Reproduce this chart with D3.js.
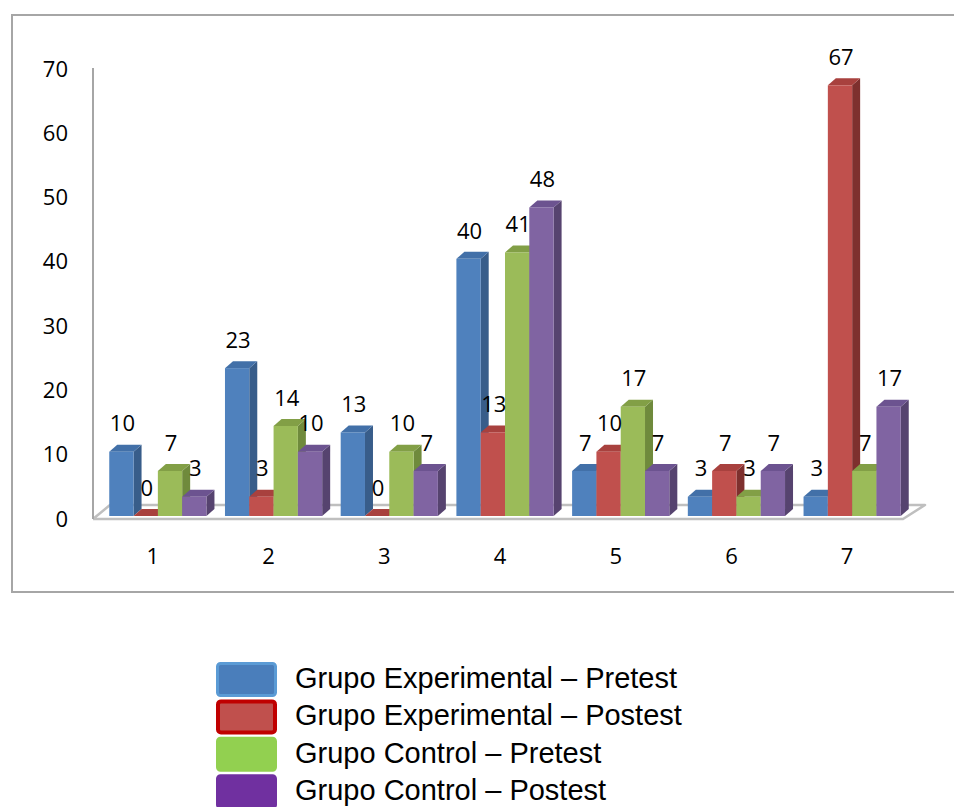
<!DOCTYPE html>
<html>
<head>
<meta charset="utf-8">
<script src="https://cdn.jsdelivr.net/npm/d3@7"></script>
<style>
  html, body { margin: 0; padding: 0; background: #ffffff; }
  svg { display: block; }
</style>
</head>
<body>
<svg id="chart" width="954" height="807"></svg>
<script>
// Categories and series values
const categories = ["1", "2", "3", "4", "5", "6", "7"];
const seriesNames = [
  "Grupo Experimental – Pretest",
  "Grupo Experimental – Postest",
  "Grupo Control – Pretest",
  "Grupo Control – Postest"
];
const expPretest  = [10, 23, 13, 40, 7, 3, 3];
const expPostest  = [0, 3, 0, 13, 10, 7, 67];
const ctrlPretest = [7, 14, 10, 41, 17, 3, 7];
const ctrlPostest = [3, 10, 7, 48, 7, 7, 17];
const yTicks = [0, 10, 20, 30, 40, 50, 60, 70];

const seriesValues = [expPretest, expPostest, ctrlPretest, ctrlPostest];

// Bar shading: front, side, top
const barColors = [
  { front: "#4f81bd", side: "#385d8a", top: "#4270a8" },
  { front: "#c0504d", side: "#7e302e", top: "#a8413e" },
  { front: "#9bbb59", side: "#6f8a3c", top: "#829f46" },
  { front: "#8064a2", side: "#56436f", top: "#6c5390" }
];
// Legend swatches: fill and edge
const legendColors = [
  { fill: "#4a7ebb", edge: "#5b9bd5" },
  { fill: "#c0504d", edge: "#c00000" },
  { fill: "#92d050", edge: "#92d050" },
  { fill: "#7030a0", edge: "#7030a0" }
];

const svg = d3.select("#chart");
const labelFont = "'Open Sans', 'DejaVu Sans', sans-serif";
const legendFont = "'Liberation Sans', Arial, sans-serif";

// Outer frame
svg.append("rect")
  .attr("x", 12).attr("y", 15)
  .attr("width", 960).attr("height", 577)
  .attr("fill", "none")
  .attr("stroke", "#a6a6a6")
  .attr("stroke-width", 2);

// Scales
const y = d3.scaleLinear().domain([0, 70]).range([516, 66]);
const x = d3.scaleBand().domain(categories)
  .range([100, 910]).paddingInner(0.16).paddingOuter(0.08);
const xs = d3.scaleBand().domain(d3.range(seriesNames.length))
  .range([0, x.bandwidth()]);

const depthX = 8, depthY = 7;
const axisX = 93;

// Floor plane
const floorFront = y(0) + 3, floorBack = y(0) - 11;
svg.append("path")
  .attr("d", d3.line()([
    [axisX, floorFront], [903, floorFront], [925, floorBack], [110, floorBack], [axisX, floorFront]
  ]))
  .attr("fill", "#ffffff")
  .attr("stroke", "#bfbfbf")
  .attr("stroke-width", 2.5)
  .attr("stroke-linejoin", "round");

// Vertical axis line
svg.append("line")
  .attr("x1", axisX).attr("x2", axisX)
  .attr("y1", y(70) + 2).attr("y2", floorFront)
  .attr("stroke", "#a6a6a6")
  .attr("stroke-width", 2);

// Y tick labels
const yAxis = d3.axisLeft(y).tickValues(yTicks).tickSize(0).tickPadding(25);
const yg = svg.append("g")
  .attr("transform", `translate(${axisX},3)`)
  .call(yAxis);
yg.select(".domain").remove();
yg.selectAll("text")
  .attr("font-family", labelFont)
  .attr("font-size", 22)
  .attr("fill", "#000");

// Category labels
svg.append("g").selectAll("text")
  .data(categories)
  .join("text")
  .attr("x", d => x(d) + x.bandwidth() / 2 - 5)
  .attr("y", 556)
  .attr("dy", "0.35em")
  .attr("text-anchor", "middle")
  .attr("font-family", labelFont)
  .attr("font-size", 22)
  .attr("fill", "#000")
  .text(d => d);

// 3D bars
const bars = [];
categories.forEach((c, ci) => {
  seriesValues.forEach((vals, si) => {
    bars.push({ cat: c, si, value: vals[ci] });
  });
});

const bw = xs.bandwidth();
const barG = svg.append("g");
bars.forEach(b => {
  const x0 = x(b.cat) + xs(b.si);
  const yTop = y(b.value);
  const yBase = y(0);
  const col = barColors[b.si];
  const g = barG.append("g");
  // side face
  g.append("path")
    .attr("d", d3.line()([
      [x0 + bw, yTop], [x0 + bw + depthX, yTop - depthY],
      [x0 + bw + depthX, yBase - depthY], [x0 + bw, yBase]
    ]) + "Z")
    .attr("fill", col.side);
  // top face
  g.append("path")
    .attr("d", d3.line()([
      [x0, yTop], [x0 + depthX, yTop - depthY],
      [x0 + bw + depthX, yTop - depthY], [x0 + bw, yTop]
    ]) + "Z")
    .attr("fill", col.top);
  // front face
  g.append("rect")
    .attr("x", x0).attr("y", yTop)
    .attr("width", bw).attr("height", yBase - yTop)
    .attr("fill", col.front);
});

// Value labels
svg.append("g").selectAll("text")
  .data(bars)
  .join("text")
  .attr("x", d => x(d.cat) + xs(d.si) + bw / 2 + 1)
  .attr("y", d => y(d.value) - 28)
  .attr("dy", "0.35em")
  .attr("text-anchor", "middle")
  .attr("font-family", labelFont)
  .attr("font-size", 22)
  .attr("fill", "#000")
  .text(d => d.value);

// Legend
const legend = svg.append("g");
const rowPitch = 37.4;
seriesNames.forEach((name, i) => {
  const ry = 662 + i * rowPitch;
  const lc = legendColors[i];
  const sw = i === 1 ? 4 : 3;
  legend.append("rect")
    .attr("x", 216 + sw / 2).attr("y", ry + sw / 2)
    .attr("width", 61 - sw).attr("height", 35 - sw)
    .attr("rx", 3)
    .attr("fill", lc.fill)
    .attr("stroke", lc.edge)
    .attr("stroke-width", sw);
  legend.append("text")
    .attr("x", 295)
    .attr("y", ry + 26)
    .attr("font-family", legendFont)
    .attr("font-size", 29)
    .attr("fill", "#000")
    .text(name);
});
</script>
</body>
</html>
